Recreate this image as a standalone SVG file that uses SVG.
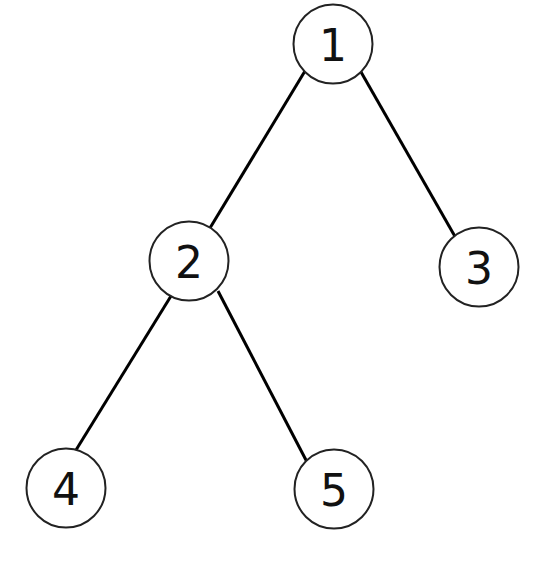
<svg xmlns="http://www.w3.org/2000/svg" width="546" height="566" viewBox="0 0 546 566">
<style>
.edge{stroke:#000;stroke-width:3;fill:none}
.node circle{fill:#fff;stroke:#222;stroke-width:2}
.node text{font-family:"DejaVu Sans",sans-serif;font-size:44px;fill:#111;text-anchor:middle}
</style>
<rect width="546" height="566" fill="#fff"/>
<g id="edges">
<line class="edge" x1="305" y1="71" x2="210" y2="228"/>
<line class="edge" x1="361" y1="72" x2="457" y2="240"/>
<line class="edge" x1="171" y1="296" x2="76" y2="450"/>
<line class="edge" x1="218" y1="291" x2="307" y2="462"/>
</g>
<g id="n1" class="node"><circle cx="333" cy="44" r="39.5"/><text x="333" y="61">1</text></g>
<g id="n2" class="node"><circle cx="189" cy="261" r="39.5"/><text x="189" y="278">2</text></g>
<g id="n3" class="node"><circle cx="479" cy="267" r="39.5"/><text x="479" y="284">3</text></g>
<g id="n4" class="node"><circle cx="66" cy="488" r="39.5"/><text x="66" y="505">4</text></g>
<g id="n5" class="node"><circle cx="334" cy="489" r="39.5"/><text x="334" y="506">5</text></g>
</svg>
